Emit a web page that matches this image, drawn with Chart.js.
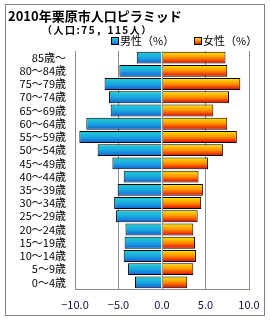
<!DOCTYPE html>
<html>
<head>
<meta charset="utf-8">
<script src="https://cdn.jsdelivr.net/npm/chart.js@4/dist/chart.umd.min.js"></script>
<style>
  html, body { margin: 0; padding: 0; background: #fff; }
  #wrap { width: 270px; height: 320px; position: relative; }
</style>
</head>
<body>
<div id="wrap"><canvas id="chart"></canvas></div>
<script>
const TITLE = '2010年栗原市人口ピラミッド';
const SUBTITLE = '（人口:75，115人）';

const ageGroups = [
  '85歳〜', '80〜84歳', '75〜79歳', '70〜74歳', '65〜69歳', '60〜64歳',
  '55〜59歳', '50〜54歳', '45〜49歳', '40〜44歳', '35〜39歳', '30〜34歳',
  '25〜29歳', '20〜24歳', '15〜19歳', '10〜14歳', '5〜9歳', '0〜4歳',
];

// percent of total population
const male = [2.9, 4.9, 6.6, 6.1, 5.9, 8.7, 9.5, 7.4, 5.7, 4.4, 5.1, 5.5, 5.3, 4.2, 4.3, 4.4, 3.9, 3.1];
const female = [7.3, 7.5, 9.0, 7.7, 5.9, 7.5, 8.6, 7.0, 5.3, 4.2, 4.7, 4.5, 4.1, 3.6, 3.8, 3.9, 3.6, 2.9];

const seriesNames = ['男性（%）', '女性（%）'];
const xTicks = [-10, -5, 0, 5, 10];

const FONT = '"Noto Sans CJK JP", "Noto Sans", sans-serif';
const BLUE_STOPS = ['#22d0d0', '#1aa8e0', '#1060d8'];
const RED_STOPS = ['#ffe800', '#ff9000', '#e00000'];

function stripes(ctx, top, bottom, stops) {
  const g = ctx.createLinearGradient(0, top, 0, bottom);
  stops.forEach((c, i) => g.addColorStop(i / (stops.length - 1), c));
  return g;
}

// one vertical gradient per bar, placed with the category scale
function barFill(stops) {
  return (context) => {
    const chart = context.chart;
    const y = chart.scales.y;
    if (!chart.chartArea || !y || context.dataIndex === undefined) return stops[1];
    const c = y.getPixelForValue(context.dataIndex);
    const half = Math.abs(y.getPixelForValue(1) - y.getPixelForValue(0)) * 0.45;
    return stripes(chart.ctx, c - half, c + half, stops);
  };
}

const headerPlugin = {
  id: 'header',
  beforeDraw(chart) {
    const ctx = chart.ctx;
    ctx.save();
    ctx.fillStyle = '#fff';
    ctx.fillRect(0, 0, chart.width, chart.height);
    ctx.strokeStyle = '#808080';
    ctx.lineWidth = 1;
    ctx.strokeRect(5.5, 4.5, 259, 311);
    ctx.restore();
  },
  afterDatasetsDraw(chart) {
    const ctx = chart.ctx;
    const x0 = chart.scales.x.getPixelForValue(0);
    ctx.save();
    ctx.strokeStyle = '#8a9aa8';
    ctx.lineWidth = 1;
    ctx.beginPath();
    ctx.moveTo(Math.round(x0) + 0.5, chart.chartArea.top);
    ctx.lineTo(Math.round(x0) + 0.5, chart.chartArea.bottom);
    ctx.stroke();
    ctx.restore();
  },
  afterDraw(chart) {
    const ctx = chart.ctx;
    ctx.save();
    ctx.fillStyle = '#000';
    ctx.textBaseline = 'middle';
    ctx.textAlign = 'left';
    ctx.font = 'bold 13px ' + FONT;
    ctx.fillText(TITLE, 8, 16);

    ctx.font = 'bold 10px ' + FONT;
    ctx.letterSpacing = '1.5px';
    ctx.fillText(SUBTITLE, 42, 30);
    ctx.letterSpacing = '0px';

    const legendItems = [
      { text: seriesNames[0], x: 111, stops: BLUE_STOPS },
      { text: seriesNames[1], x: 194, stops: RED_STOPS },
    ];
    ctx.font = '11px ' + FONT;
    legendItems.forEach((it) => {
      ctx.fillStyle = stripes(ctx, 37, 45, it.stops);
      ctx.fillRect(it.x, 37, 8, 8);
      ctx.strokeStyle = '#000';
      ctx.strokeRect(it.x + 0.5, 37.5, 7, 7);
      ctx.fillStyle = '#000';
      ctx.fillText(it.text, it.x + 9, 41);
    });
    ctx.restore();
  },
};

new Chart(document.getElementById('chart'), {
  type: 'bar',
  data: {
    labels: ageGroups,
    datasets: [
      {
        label: seriesNames[0],
        data: male.map((v) => -v),
        backgroundColor: barFill(BLUE_STOPS),
        borderColor: '#000',
        borderWidth: 1,
      },
      {
        label: seriesNames[1],
        data: female,
        backgroundColor: barFill(RED_STOPS),
        borderColor: '#000',
        borderWidth: 1,
      },
    ],
  },
  options: {
    indexAxis: 'y',
    responsive: true,
    maintainAspectRatio: false,
    animation: false,
    devicePixelRatio: 1,
    layout: { padding: { top: 51, left: 5, right: 21, bottom: 4 } },
    datasets: { bar: { barPercentage: 0.9, categoryPercentage: 1 } },
    plugins: {
      legend: { display: false },
      tooltip: { enabled: false },
    },
    scales: {
      x: {
        stacked: true,
        min: -10,
        max: 10,
        afterFit: (scale) => { scale.height = 27; },
        afterBuildTicks: (scale) => { scale.ticks = xTicks.map((v) => ({ value: v })); },
        grid: { color: '#8c8c8c', drawTicks: false },
        border: { color: '#8c8c8c' },
        ticks: {
          padding: 9,
          color: '#101030',
          font: { family: FONT, size: 11 },
          callback: (v) => (v < 0 ? '−' : '') + Math.abs(v).toFixed(1),
        },
      },
      y: {
        stacked: true,
        afterFit: (scale) => { scale.width = 70; },
        grid: { display: false, drawTicks: false },
        border: { display: true, color: '#8c8c8c' },
        ticks: {
          autoSkip: false,
          padding: 9,
          color: '#000',
          font: { family: FONT, size: 11 },
        },
      },
    },
  },
  plugins: [headerPlugin],
});
</script>
</body>
</html>
